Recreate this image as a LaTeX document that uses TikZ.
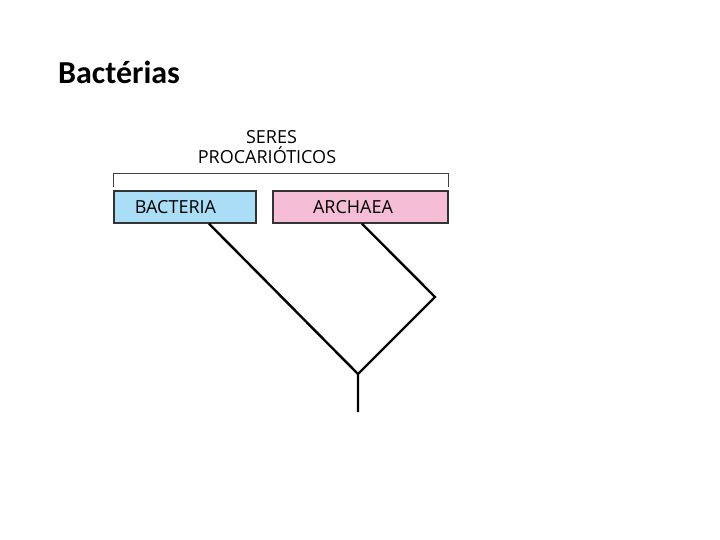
\documentclass[tikz,border=0pt]{standalone}
\usepackage{fontspec}
\setmainfont{Open Sans}
\newfontfamily\titlefont{Carlito}
\definecolor{bactblue}{RGB}{170,222,246}
\definecolor{archpink}{RGB}{246,190,214}
\begin{document}
\begin{tikzpicture}[x=1pt,y=-1pt,
    grupo/.style={draw=black!80, line width=1.4pt, minimum height=32pt, inner sep=0pt,
      font=\fontsize{18}{20}\selectfont},
    rotulo/.style={anchor=base, font=\fontsize{18}{20}\selectfont},
    ramo/.style={line width=2.4pt}]
  \useasboundingbox (0,0) rectangle (720,540);
  \node[anchor=base west, inner sep=0pt, font=\titlefont\bfseries\fontsize{32}{36}\selectfont] (titulo) at (58,84) {Bactérias};
  % grupos
  \node[grupo, fill=bactblue, minimum width=142pt] (bact) at (185,207) {BACTERIA\hspace*{19pt}};
  \node[grupo, fill=archpink, minimum width=175pt] (arch) at (360.5,207) {ARCHAEA\hspace*{15pt}};
  \node[rotulo] (seres) at (271.5,144) {SERES};
  \node[rotulo] (procar) at (267,164) {PROCARIÓTICOS};
  \draw[line width=1.3pt, black!75] ([yshift=3pt]bact.north west) -- ++(0,-14) -| ([yshift=3pt]arch.north east);
  % arvore
  \coordinate (na) at (435,297);
  \coordinate (no) at (358,374);
  \coordinate (raiz) at (358,412);
  \draw[ramo] ([xshift=24pt]bact.south) -- (no);
  \draw[ramo] ([xshift=1.5pt]arch.south) -- (na) -- (no) -- (raiz);
\end{tikzpicture}
\end{document}
